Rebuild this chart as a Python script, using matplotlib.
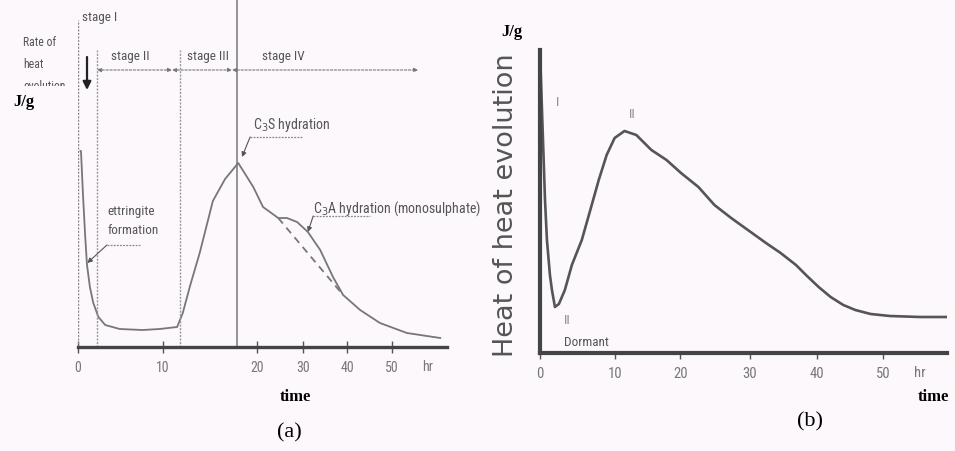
import numpy as np
import matplotlib
matplotlib.use("Agg")
import matplotlib.pyplot as plt
from matplotlib import font_manager as fm
from matplotlib.font_manager import FontProperties
from matplotlib.transforms import Bbox

# ---- panel (a): rate of heat evolution, stages I-IV ----
a_time = [0.3, 0.35, 0.6, 0.85, 1.06, 1.4, 1.8, 2.4, 3.2, 4.9, 7.6, 9.6, 11.5, 12.1,
          12.9, 13.9, 15.3, 16.6, 18.0, 19.6, 21.3, 24.6, 26.5, 28.7, 31.1, 33.9,
          36.8, 39.1, 42.9, 47.3, 53.3, 60.7]
a_heat = [98, 98, 75, 55, 41, 30, 22, 15, 11, 9, 8.5, 9, 10, 17,
          31, 47, 73, 84, 92, 80, 70, 64.5, 64.5, 62.5, 57.5, 48.5,
          35, 26, 18.5, 12, 7, 4.5]
# dashed baseline under the C3A shoulder
a_base_time = [24.6, 39.1]
a_base_heat = [64.5, 26]
stage_start = [0, 2.24, 11.8, 17.87]
stage_names = ["stage II", "stage III", "stage IV"]
stage_arrow_ends = [(2.24, 10.96), (10.96, 17.34), (17.34, 55.8)]

# ---- panel (b): heat of evolution ----
b_time = [0.1, 0.67, 0.93, 1.33, 1.6, 2.0, 2.53, 3.33, 4.27, 5.6, 6.93, 7.87, 8.93, 10.0,
          11.5, 13.3, 15.6, 17.9, 20.1, 22.6, 24.9, 27.3, 29.7, 32.4, 34.6, 36.9,
          38.4, 40.3, 42.1, 44.0, 45.8, 48.1, 51.0, 55.5, 59.5]
b_heat = [140, 76.5, 56.5, 39, 31.5, 23, 24.5, 31.5, 44, 56.5, 74, 86.5, 99, 107.5,
          111, 109, 101.5, 96.5, 90, 83, 74, 67.5, 61.5, 55, 50, 44,
          39, 33, 28, 24, 21.5, 19.5, 18.5, 18, 18]

tick_hr = [0, 10, 20, 30, 40, 50]
tick_labels = ["0", "10", "20", "30", "40", "50"]

# printed tick positions are uneven on the scan, so map them piecewise
scale_hr = [-50] + tick_hr + [100]
tick_pos_a = [-347, 78, 163, 257, 303, 347, 392, 617]
tick_pos_b = [193, 538, 613, 679, 749, 816, 883, 1218]

W, H = 955, 451
SERIF = ["Liberation Serif", "DejaVu Serif"]

# pick a condensed sans if one is installed, else Lato
installed = fm.fontManager.ttflist
narrow_name, narrow_stretch = "Lato", "normal"
for cand in ["Liberation Sans Narrow", "Roboto Condensed", "Open Sans Condensed",
             "Noto Sans Condensed", "DejaVu Sans Condensed"]:
    if any(f.name == cand for f in installed):
        narrow_name = cand
        break
else:
    for f in installed:
        if f.stretch in ("condensed", "semi-condensed") and "Sans" in f.name:
            narrow_name, narrow_stretch = f.name, "condensed"
            break


def narrow(size):
    return FontProperties(family=[narrow_name, "DejaVu Sans"],
                          stretch=narrow_stretch, size=size)


def fx(px):
    return px / W


def fy(py):
    return 1 - py / H


def piecewise(px_pts):
    fwd = lambda x: np.interp(x, scale_hr, px_pts)
    inv = lambda p: np.interp(p, px_pts, scale_hr)
    return fwd, inv


fig = plt.figure(figsize=(9.55, 4.51), dpi=100, facecolor="#fcf8fb")

# ================= panel (a) =================
ax = fig.add_axes([fx(78), fy(347), (447 - 78) / W, 347 / H])
ax.set_facecolor("none")
fwd_a, inv_a = piecewise(tick_pos_a)
ax.set_xscale("function", functions=(fwd_a, inv_a))
ax.set_xlim(0, 62.2)
ax.set_ylim(0, 173.5)

ax.plot(a_time, a_heat, color="#777777", lw=1.3)
ax.plot(a_base_time, a_base_heat, color="#777777", lw=1.3, ls=(0, (4, 3)))

# stage boundaries
ax.vlines(stage_start[0], 0, 163.5, color="#888888", lw=1, ls=(0, (1.5, 1)))
ax.vlines(stage_start[1:3], 0, 148.5, color="#999999", lw=1, ls=(0, (1.5, 1)))
ax.vlines(stage_start[3], 0, 173.5, color="#777777", lw=1.1)

for (x0, x1) in stage_arrow_ends:
    ax.annotate("", xy=(x1, 138.5), xytext=(x0, 138.5),
                arrowprops=dict(arrowstyle="<|-|>", color="#777777", lw=0.8,
                                ls=(0, (2, 1.5)), mutation_scale=6,
                                shrinkA=0, shrinkB=0))
stage_text_x = [3.9, 12.5, 21.0]
for name, tx in zip(stage_names, stage_text_x):
    ax.text(tx, 142, name, fontproperties=narrow(9.5), color="#555555",
            ha="left", va="bottom")
ax.text(0.45, 165, "stage I", fontproperties=narrow(9.5), color="#555555",
        ha="left", va="center", clip_on=False)

# down arrow
ax.annotate("", xy=(1.06, 128.5), xytext=(1.06, 145),
            arrowprops=dict(arrowstyle="-|>", color="#222222", lw=1.6,
                            mutation_scale=12, shrinkA=0, shrinkB=0))

# annotations
ax.text(3.5, 68, "ettringite", fontproperties=narrow(9.5), color="#555555",
        ha="left", va="center")
ax.text(3.5, 58, "formation", fontproperties=narrow(9.5), color="#555555",
        ha="left", va="center")
ax.plot([3.4, 7.3], [51, 51], color="#888888", lw=0.9, ls=(0, (1.5, 1)))
ax.annotate("", xy=(1.1, 42), xytext=(3.4, 51),
            arrowprops=dict(arrowstyle="-|>", color="#555555", lw=0.8,
                            mutation_scale=7, shrinkA=0, shrinkB=0))

ax.text(19.6, 111, "C$_3$S hydration", fontproperties=narrow(10),
        color="#555555", ha="left", va="center")
ax.plot([19.26, 29.8], [105, 105], color="#888888", lw=0.9, ls=(0, (1.5, 1)))
ax.annotate("", xy=(18.4, 95), xytext=(19.26, 105),
            arrowprops=dict(arrowstyle="-|>", color="#555555", lw=0.8,
                            mutation_scale=7, shrinkA=0, shrinkB=0))

ax.text(32.3, 69, "C$_3$A hydration (monosulphate)", fontproperties=narrow(10),
        color="#555555", ha="left", va="center", clip_on=False)
ax.plot([32.3, 45.1], [65.5, 65.5], color="#888888", lw=0.9, ls=(0, (1.5, 1)))
ax.annotate("", xy=(31.1, 57.5), xytext=(32.3, 65.5),
            arrowprops=dict(arrowstyle="-|>", color="#555555", lw=0.8,
                            mutation_scale=7, shrinkA=0, shrinkB=0))

for s in ["top", "right", "left"]:
    ax.spines[s].set_visible(False)
ax.spines["bottom"].set_color("#444444")
ax.spines["bottom"].set_linewidth(2.4)
ax.set_yticks([])
ax.set_xticks(tick_hr)
ax.set_xticklabels(tick_labels)
for lab in ax.get_xticklabels():
    lab.set_fontproperties(narrow(10))
ax.tick_params(axis="x", direction="inout", length=8, width=1, color="#555555",
               labelcolor="#777777", pad=6)
ax.text(58, -10, "hr", fontproperties=narrow(10), color="#777777",
        ha="center", va="center", clip_on=False)

fig.text(fx(295), fy(397), "time", family=SERIF, fontsize=12, weight="bold",
         ha="center", va="center")
fig.text(fx(289), fy(433), "(a)", family=SERIF, fontsize=16,
         ha="center", va="center")
fig.text(fx(24), fy(102), "J/g", family=SERIF, fontsize=12, weight="bold",
         ha="center", va="center")
rate = fig.text(fx(23), fy(36), "Rate of\nheat\nevolution",
                fontproperties=narrow(8.5), color="#555555", ha="left",
                va="top", linespacing=1.9)
rate.set_clip_box(Bbox([[0, H - 86], [80, H]]))
rate.set_clip_on(True)

# ================= panel (b) =================
bx = fig.add_axes([fx(540), fy(353), (947 - 540) / W, 353 / H])
bx.set_facecolor("none")
fwd_b, inv_b = piecewise(tick_pos_b)
bx.set_xscale("function", functions=(fwd_b, inv_b))
bx.set_xlim(inv_b(540), inv_b(947))
bx.set_ylim(0, 176.5)

bx.plot(b_time, b_heat, color="#555555", lw=1.9)

for s in ["top", "right"]:
    bx.spines[s].set_visible(False)
bx.spines["left"].set_bounds(0, 151.5)
for s in ["left", "bottom"]:
    bx.spines[s].set_color("#444444")
    bx.spines[s].set_linewidth(3)
bx.set_yticks([])
bx.set_xticks(tick_hr)
bx.set_xticklabels(tick_labels)
for lab in bx.get_xticklabels():
    lab.set_fontproperties(narrow(10.5))
bx.tick_params(axis="x", direction="out", length=4, width=1, color="#555555",
               labelcolor="#777777", pad=6)
bx.text(55.4, -10, "hr", fontproperties=narrow(10.5), color="#777777",
        ha="center", va="center", clip_on=False)

bx.text(2.4, 125.5, "I", fontproperties=narrow(9.5), color="#888888",
        ha="center", va="center")
bx.text(12.7, 119.5, "II", fontproperties=narrow(9.5), color="#888888",
        ha="center", va="center")
bx.text(3.6, 16, "II", fontproperties=narrow(9.5), color="#888888",
        ha="center", va="center")
bx.text(3.2, 5, "Dormant", fontproperties=narrow(9.5), color="#555555",
        ha="left", va="center")

fig.text(fx(506), fy(205), "Heat of heat evolution", fontsize=19.5,
         color="#555555", rotation=90, ha="center", va="center")
fig.text(fx(512), fy(32), "J/g", family=SERIF, fontsize=12, weight="bold",
         ha="center", va="center")
fig.text(fx(933), fy(397), "time", family=SERIF, fontsize=12, weight="bold",
         ha="center", va="center")
fig.text(fx(810), fy(422), "(b)", family=SERIF, fontsize=16,
         ha="center", va="center")

fig.savefig("out.png", dpi=100, facecolor=fig.get_facecolor())
